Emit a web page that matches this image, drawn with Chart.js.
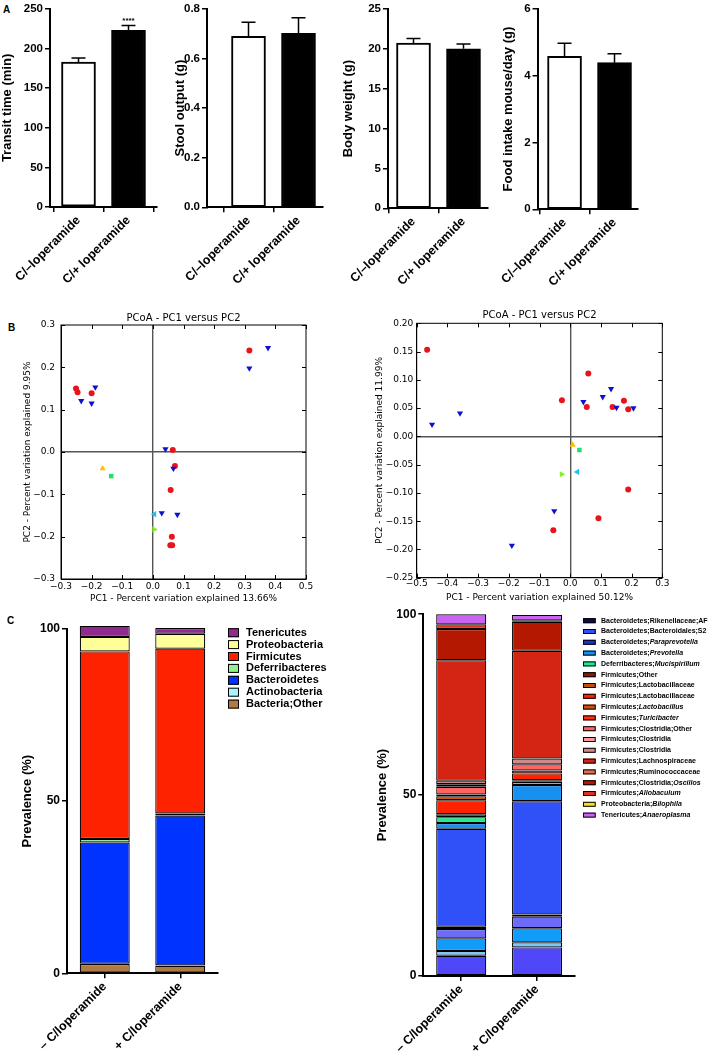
<!DOCTYPE html>
<html><head><meta charset="utf-8">
<script src="https://cdn.jsdelivr.net/npm/chart.js@4.4.1/dist/chart.umd.min.js"></script>
<style>
html,body{margin:0;padding:0;background:#fff}
body{position:relative;width:709px;height:1056px;overflow:hidden}
canvas{position:absolute}
.plab{position:absolute;font:bold 10px 'Liberation Sans',Arial,sans-serif;line-height:10px;color:#000}
</style></head><body>
<div class="plab" style="left:3px;top:5px">A</div>
<div class="plab" style="left:8px;top:323px">B</div>
<div class="plab" style="left:7px;top:616px">C</div>
<script>
// ---------------- DATA ----------------
// Panel A
const groupsA = ['C/–loperamide', 'C/+ loperamide'];
const transitMean = [183, 223];
const transitSEM = [5, 6];
const stoolMean = [0.689, 0.701];
const stoolSEM = [0.057, 0.063];
const weightMean = [20.7, 20.0];
const weightSEM = [0.6, 0.6];
const foodMean = [4.58, 4.39];
const foodSEM = [0.39, 0.27];
const transitSig = ['', '****'];

// Panel B (PCoA coordinates [PC1, PC2])
const pcoa1Minus = [[-0.251,0.150],[-0.246,0.141],[-0.200,0.139],[0.315,0.240],[0.065,0.005],[0.072,-0.033],[0.058,-0.090],[0.062,-0.200],[0.057,-0.220],[0.063,-0.220]];
const pcoa1Plus = [[-0.188,0.153],[-0.234,0.121],[-0.200,0.115],[0.315,0.198],[0.376,0.246],[0.041,0.007],[0.067,-0.039],[0.029,-0.144],[0.080,-0.148]];
const pcoa1Other = [[-0.164,-0.039],[-0.136,-0.057],[0.005,-0.147],[0.004,-0.183]];
const pcoa2Minus = [[-0.466,0.153],[0.059,0.111],[-0.027,0.064],[0.054,0.052],[0.138,0.052],[0.175,0.063],[0.189,0.048],[0.189,-0.094],[0.092,-0.145],[-0.055,-0.166]];
const pcoa2Plus = [[-0.450,0.021],[-0.359,0.041],[0.043,0.061],[0.106,0.070],[0.133,0.084],[0.151,0.051],[0.206,0.050],[-0.052,-0.132],[-0.190,-0.193]];
const pcoa2Other = [[0.008,-0.015],[0.030,-0.024],[0.023,-0.063],[-0.028,-0.067]];

// Panel C
const groupsC = ['– C/loperamide', '+ C/loperamide'];
const phylumNames = ['Bacteria;Other','Actinobacteria','Bacteroidetes','Deferribacteres','Firmicutes','Proteobacteria','Tenericutes'];
const phylumMinus = [2.7, 0.1, 35.2, 1.0, 54.5, 4.2, 3.2];
const phylumPlus  = [2.2, 0.1, 43.5, 0.6, 47.9, 4.3, 1.7];

const genusNames = ['Bacteroidetes;other 1','Bacteroidetes;other 2','Bacteroidetes;other 3','Bacteroidetes;other 4',
  'Bacteroidetes;Rikenellaceae;AF','Bacteroidetes;Bacteroidales;S2','Bacteroidetes;Paraprevotella','Bacteroidetes;Prevotella',
  'Deferribacteres;Mucispirillum','Firmicutes;Other','Firmicutes;Lactobacillaceae','Firmicutes;Lactobacillaceae',
  'Firmicutes;Lactobacillus','Firmicutes;Turicibacter','Firmicutes;Clostridia;Other','Firmicutes;Clostridia',
  'Firmicutes;Clostridia','Firmicutes;Lachnospiraceae','Firmicutes;Ruminococcaceae','Firmicutes;Clostridia;Oscillos',
  'Firmicutes;Allobaculum','Proteobacteria;Bilophila','Tenericutes;Anaeroplasma'];
const genusItalic = [0,0,0,0, 0,0,1,1, 1,0,0,0, 1,1,0,0, 0,0,0,1, 1,1,1];
const genusInLegend = [0,0,0,0, 1,1,1,1, 1,1,1,1, 1,1,1,1, 1,1,1,1, 1,1,1];
const genusMinus = [5.6,1.3,3.5,2.6, 0.6,27.1,0,1.6, 1.6,0.8,0,3.9, 1.1,0.5,2.1,0.7, 1.0,33.3,0,8.6, 1.3,0,2.8];
const genusPlus  = [7.9,1.4,3.9,3.2, 0.6,31.3,0,4.5, 0.9,0.4,0,1.9, 0,0.8,1.7,0, 1.6,29.8,0,8.0, 0.4,0,1.5];

// ---------------- STYLES ----------------
const SANS = "'Liberation Sans', Arial, sans-serif";
const DJV = "'DejaVu Sans', sans-serif";
const phylumColors = ['#b07a45','#a8f4ff','#0033ff','#8ff08f','#ff2200','#ffff99','#902a90'];
const genusColors = ['#5048f8','#7cc8f8','#109cf8','#6c6cf8',
  '#0a0a50','#3050f8','#2030c8','#1890f0',
  '#20e890','#8a1a0a','#c05010','#ff2200',
  '#d05010','#ff3010','#ff6464','#ff9a9a',
  '#d08888','#d42414','#e07050','#b41800',
  '#e03020','#f0e020','#c864f0'];

Chart.defaults.font.family = SANS;
Chart.defaults.color = '#000';
Chart.defaults.animation = false;

function mk(left, top, w, h) {
  const c = document.createElement('canvas');
  c.width = w; c.height = h;
  c.style.left = left + 'px'; c.style.top = top + 'px';
  c.style.width = w + 'px'; c.style.height = h + 'px';
  document.body.appendChild(c);
  return c;
}

// ---------------- PLUGINS ----------------
const errorBars = {
  id: 'errorBars',
  afterDatasetsDraw(chart) {
    const {ctx, scales: {y}} = chart;
    chart.data.datasets.forEach((ds, di) => {
      const meta = chart.getDatasetMeta(di);
      meta.data.forEach((el, i) => {
        const top = y.getPixelForValue(ds.data[i].y + ds.sem[i]);
        ctx.save();
        ctx.strokeStyle = '#000'; ctx.lineWidth = 1.5;
        ctx.beginPath();
        ctx.moveTo(el.x, el.y); ctx.lineTo(el.x, top);
        ctx.moveTo(el.x - 7, top); ctx.lineTo(el.x + 7, top);
        ctx.stroke();
        if (ds.sig && ds.sig[i]) {
          ctx.fillStyle = '#000';
          ctx.font = 'bold 8px ' + SANS;
          ctx.textAlign = 'center'; ctx.textBaseline = 'bottom';
          ctx.fillText(ds.sig[i], el.x, top - 1);
        }
        ctx.restore();
      });
    });
  }
};

const frameTicks = {
  id: 'frameTicks',
  afterDatasetsDraw(chart) {
    const {ctx, chartArea: a, scales: {x, y}} = chart;
    ctx.save();
    ctx.strokeStyle = '#000'; ctx.lineWidth = 1;
    ctx.strokeRect(a.left, a.top, a.width, a.height);
    const L = 4;
    ctx.beginPath();
    x.ticks.forEach(t => {
      const p = Math.round(x.getPixelForValue(t.value)) + 0.5;
      ctx.moveTo(p, a.bottom); ctx.lineTo(p, a.bottom - L);
      ctx.moveTo(p, a.top); ctx.lineTo(p, a.top + L);
    });
    y.ticks.forEach(t => {
      const p = Math.round(y.getPixelForValue(t.value)) + 0.5;
      ctx.moveTo(a.left, p); ctx.lineTo(a.left + L, p);
      ctx.moveTo(a.right, p); ctx.lineTo(a.right - L, p);
    });
    ctx.stroke();
    ctx.restore();
  }
};

const taxaLegend = {
  id: 'taxaLegend',
  afterDraw(chart) {
    const o = chart.options.plugins.taxaLegend;
    if (!o) return;
    const {ctx} = chart;
    const ds = chart.data.datasets;
    let items = ds.map((d, i) => i).filter(i => ds[i].inLegend !== false);
    if (o.reverse) items.reverse();
    ctx.save();
    items.forEach((di, k) => {
      const d = ds[di];
      const cy = o.y + k * o.rowH;
      ctx.fillStyle = d.backgroundColor;
      ctx.fillRect(o.x, cy - o.boxH / 2, o.boxW, o.boxH);
      ctx.strokeStyle = '#000'; ctx.lineWidth = 1;
      ctx.strokeRect(o.x + 0.5, cy - o.boxH / 2 + 0.5, o.boxW - 1, o.boxH - 1);
      let tx = o.x + o.boxW + o.gap;
      ctx.fillStyle = '#000'; ctx.textBaseline = 'middle'; ctx.textAlign = 'left';
      const label = d.label;
      if (d.italic) {
        const cut = label.lastIndexOf(';') + 1;
        const a = label.slice(0, cut), b = label.slice(cut);
        ctx.font = 'bold ' + o.size + 'px ' + SANS;
        ctx.fillText(a, tx, cy);
        tx += ctx.measureText(a).width;
        ctx.font = 'italic bold ' + o.size + 'px ' + SANS;
        ctx.fillText(b, tx, cy);
      } else {
        ctx.font = 'bold ' + o.size + 'px ' + SANS;
        ctx.fillText(label, tx, cy);
      }
    });
    ctx.restore();
  }
};

// ---------------- PANEL A ----------------
function barPanel(c) {
  const H = 290;
  const cv = mk(c.left, 0, c.w, H);
  new Chart(cv, {
    type: 'bar',
    data: {
      datasets: [{
        data: c.means.map((m, i) => ({x: i, y: m})),
        sem: c.sems,
        sig: c.sig,
        backgroundColor: ['#ffffff', '#000000'],
        borderColor: '#000', borderWidth: 2, borderSkipped: false,
        barThickness: 34
      }]
    },
    options: {
      responsive: false, animation: false,
      layout: {padding: {left: c.padL, right: c.w - c.areaR, top: c.areaT, bottom: 0}},
      plugins: {legend: {display: false}, tooltip: {enabled: false}},
      scales: {
        x: {
          type: 'linear', min: c.xmin, max: c.xmax, offset: false,
          afterBuildTicks: s => { s.ticks = groupsA.map((_, i) => ({value: i})); },
          afterFit: s => { s.height = H - c.areaB; },
          ticks: {callback: v => groupsA[v], minRotation: 45, maxRotation: 45, autoSkip: false,
                  font: {size: 12.5, weight: 'bold'}, padding: 1},
          grid: {display: true, drawOnChartArea: false, drawTicks: true, tickLength: 5, color: '#000', lineWidth: 1.5},
          border: {display: true, color: '#000', width: 2}
        },
        y: {
          min: 0, max: c.ymax,
          ticks: {stepSize: c.step, callback: c.fmt, font: {size: 11.5, weight: 'bold'}, padding: 2},
          afterFit: s => { s.width = c.areaL - c.padL; },
          title: {display: true, text: c.title, font: {size: 13, weight: 'bold'}, padding: {top: 0, bottom: 0}},
          grid: {drawOnChartArea: false, tickLength: 5, color: '#000', lineWidth: 1.5},
          border: {color: '#000', width: 2}
        }
      }
    },
    plugins: [errorBars]
  });
}

barPanel({left: 0, w: 170, padL: 0, areaL: 50, areaR: 157, areaT: 7.3, areaB: 207, ymax: 250, step: 50,
  fmt: v => v, xmin: -0.57, xmax: 1.57, means: transitMean, sems: transitSEM, sig: transitSig, title: 'Transit time (min)'});
barPanel({left: 165, w: 170, padL: 8, areaL: 42, areaR: 158, areaT: 7.3, areaB: 207.3, ymax: 0.8, step: 0.2,
  fmt: v => v.toFixed(1), xmin: -0.83, xmax: 1.49, means: stoolMean, sems: stoolSEM, sig: null, title: 'Stool output (g)'});
barPanel({left: 335, w: 170, padL: 6, areaL: 53, areaR: 153, areaT: 8.3, areaB: 208.3, ymax: 25, step: 5,
  fmt: v => v, xmin: -0.51, xmax: 1.49, means: weightMean, sems: weightSEM, sig: null, title: 'Body weight (g)'});
barPanel({left: 490, w: 190, padL: 10, areaL: 47, areaR: 148, areaT: 8.3, areaB: 209.3, ymax: 6, step: 2,
  fmt: v => v, xmin: -0.54, xmax: 1.47, means: foodMean, sems: foodSEM, sig: null, title: 'Food intake mouse/day (g)'});

// ---------------- PANEL B ----------------
function fmtMinus(d) { return v => (v < -1e-9 ? '\u2212' : '') + Math.abs(v).toFixed(d); }
function pts(arr) { return arr.map(p => ({x: p[0], y: p[1]})); }

function pcoa(c) {
  const H = 305;
  const cv = mk(c.left, 300, c.w, H);
  const others = c.other;
  const datasets = [
    {label: 'C/+ loperamide', data: pts(c.plus), backgroundColor: '#1010d0', pointStyle: 'triangle', rotation: 180, pointRadius: 3.6},
    {label: 'C/– loperamide', data: pts(c.minus), backgroundColor: '#e8141c', pointStyle: 'circle', pointRadius: 3},
    {label: 'Sample 1', data: pts([others[0]]), backgroundColor: '#ffc000', pointStyle: 'triangle', rotation: 0, pointRadius: 3.6},
    {label: 'Sample 2', data: pts([others[1]]), backgroundColor: '#20e070', pointStyle: 'rect', pointRadius: 3.2},
    {label: 'Sample 3', data: pts([others[2]]), backgroundColor: '#20c0f0', pointStyle: 'triangle', rotation: 270, pointRadius: 3.6},
    {label: 'Sample 4', data: pts([others[3]]), backgroundColor: '#80f020', pointStyle: 'triangle', rotation: 90, pointRadius: 3.6}
  ];
  datasets.forEach(d => { d.borderWidth = 0; d.pointBorderWidth = 0; });
  const zero = ctx => Math.abs(ctx.tick.value) < 1e-9 ? '#555' : 'rgba(0,0,0,0)';
  new Chart(cv, {
    type: 'scatter',
    data: {datasets},
    options: {
      responsive: false, animation: false,
      layout: {padding: {left: c.padL, right: c.w - c.areaR, top: 0, bottom: 0}},
      plugins: {
        legend: {display: false}, tooltip: {enabled: false},
        title: {display: true, text: 'PCoA - PC1 versus PC2', fullSize: false, color: '#000',
                font: {family: DJV, size: 10, weight: 'normal'}, padding: {top: c.titleTop, bottom: c.areaT - c.titleTop - 12}}
      },
      scales: {
        x: {
          type: 'linear', min: c.xmin, max: c.xmax,
          ticks: {stepSize: 0.1, callback: fmtMinus(1), font: {family: DJV, size: 9}, padding: c.xtp, maxRotation: 0, autoSkip: false},
          grid: {drawTicks: false, color: zero, lineWidth: 1.4},
          border: {display: true, color: '#000', width: 1},
          title: {display: true, text: c.xTitle, font: {family: DJV, size: 9}, padding: {top: 0, bottom: c.xtb}},
          afterFit: s => { s.height = H - c.areaB; }
        },
        y: {
          type: 'linear', min: c.ymin, max: c.ymax,
          ticks: {stepSize: c.ystep, callback: fmtMinus(c.ydec), font: {family: DJV, size: 9}, padding: c.ytp, autoSkip: false},
          grid: {drawTicks: false, color: zero, lineWidth: 1.4},
          border: {display: true, color: '#000', width: 1},
          title: {display: true, text: c.yTitle, font: {family: DJV, size: 9}, padding: {top: c.ytt, bottom: 0}},
          afterFit: s => { s.width = c.areaL - c.padL; }
        }
      }
    },
    plugins: [frameTicks]
  });
}

pcoa({left: 0, w: 350, padL: 18, areaL: 61, areaR: 306, areaT: 25, areaB: 279, titleTop: 12,
  xmin: -0.3, xmax: 0.5, ymin: -0.3, ymax: 0.3, ystep: 0.1, ydec: 1, xtp: 2, xtb: 0.6, ytp: 6, ytt: 4.6,
  xTitle: 'PC1 - Percent variation explained 13.66%', yTitle: 'PC2 - Percent variation explained 9.95%',
  minus: pcoa1Minus, plus: pcoa1Plus, other: pcoa1Other});
pcoa({left: 350, w: 359, padL: 20, areaL: 66.7, areaR: 312.3, areaT: 23.3, areaB: 277.7, titleTop: 9.7,
  xmin: -0.5, xmax: 0.3, ymin: -0.25, ymax: 0.2, ystep: 0.05, ydec: 2, xtp: 0.5, xtb: 2.3, ytp: 3.4, ytt: 3.9,
  xTitle: 'PC1 - Percent variation explained 50.12%', yTitle: 'PC2 - Percent variation explained 11.99%',
  minus: pcoa2Minus, plus: pcoa2Plus, other: pcoa2Other});

// ---------------- PANEL C ----------------
function stackPanel(c) {
  const H = 451;
  const cv = mk(c.left, 605, c.w, H);
  const datasets = c.names.map((n, i) => ({
    label: n,
    data: [c.minus[i], c.plus[i]],
    backgroundColor: c.colors[i],
    borderColor: '#000', borderWidth: 1.2, borderSkipped: false,
    italic: c.italic ? !!c.italic[i] : false,
    inLegend: c.inLegend ? !!c.inLegend[i] : true,
    barPercentage: c.barPct, categoryPercentage: 1,
    clip: false
  }));
  new Chart(cv, {
    type: 'bar',
    data: {labels: groupsC, datasets},
    options: {
      responsive: false, animation: false,
      layout: {padding: {left: c.padL, right: c.w - c.areaR, top: c.areaT, bottom: 0}},
      plugins: {legend: {display: false}, tooltip: {enabled: false}, taxaLegend: c.legend},
      scales: {
        x: {
          stacked: true, offset: true,
          ticks: {minRotation: 45, maxRotation: 45, autoSkip: false, font: {size: 12.5, weight: 'bold'}, padding: 1},
          grid: {display: true, offset: false, drawOnChartArea: false, drawTicks: true, tickLength: 5, color: '#000', lineWidth: 1.5},
          border: {display: true, color: '#000', width: 2},
          afterFit: s => { s.height = H - c.areaB; }
        },
        y: {
          stacked: true, min: 0, max: 100,
          ticks: {stepSize: 50, font: {size: 12, weight: 'bold'}, padding: 2},
          grid: {drawOnChartArea: false, tickLength: 5, color: '#000', lineWidth: 1.5},
          border: {color: '#000', width: 2},
          title: {display: true, text: 'Prevalence (%)', font: {size: 13, weight: 'bold'}, padding: {top: 0, bottom: 0}},
          afterFit: s => { s.width = c.areaL - c.padL; }
        }
      }
    },
    plugins: [taxaLegend]
  });
}

stackPanel({left: 0, w: 350, padL: 20, areaL: 67, areaR: 218, areaT: 24, areaB: 368.3, barPct: 0.662,
  names: phylumNames, minus: phylumMinus, plus: phylumPlus, colors: phylumColors,
  legend: {x: 228, y: 27.7, rowH: 11.9, boxW: 11, boxH: 9, gap: 7, size: 11, reverse: true}});
stackPanel({left: 360, w: 349, padL: 15, areaL: 63.3, areaR: 215, areaT: 8.7, areaB: 371, barPct: 0.66,
  names: genusNames, minus: genusMinus, plus: genusPlus, colors: genusColors, italic: genusItalic, inLegend: genusInLegend,
  legend: {x: 223, y: 15.7, rowH: 10.8, boxW: 12.7, boxH: 5, gap: 5.3, size: 7, reverse: false}});
</script>
</body></html>
